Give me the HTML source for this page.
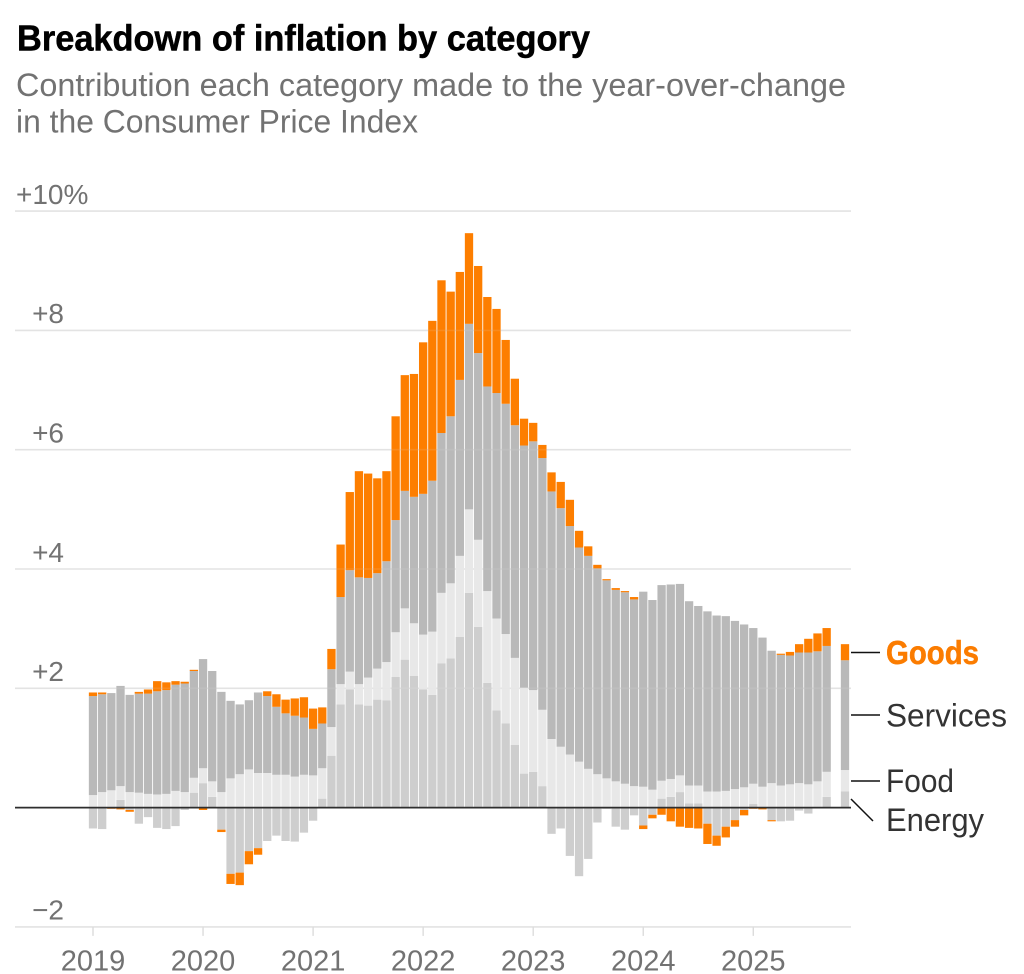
<!DOCTYPE html>
<html lang="en">
<head>
<meta charset="utf-8">
<title>Breakdown of inflation by category</title>
<style>
html,body{margin:0;padding:0;background:#fff;}
svg{display:block;}
text{font-family:"Liberation Sans",sans-serif;}
.tick{font-size:28px;fill:#727272;}
.xtick{font-size:29px;fill:#727272;}
.sub{font-size:32px;fill:#727272;}
.lab{font-size:32px;fill:#333;}
</style>
</head>
<body>
<svg id="chart" xmlns="http://www.w3.org/2000/svg" width="1024" height="974" viewBox="0 0 1024 974">
  <text x="17" y="50.5" font-size="36" font-weight="700" fill="#000" stroke="#000" stroke-width="0.5" textLength="573" lengthAdjust="spacingAndGlyphs">Breakdown of inflation by category</text>
  <text class="sub" x="16" y="96" textLength="830" lengthAdjust="spacingAndGlyphs">Contribution each category made to the year-over-change</text>
  <text class="sub" x="16" y="132.7" textLength="402" lengthAdjust="spacingAndGlyphs">in the Consumer Price Index</text>
  <g id="grid"></g>
  <g id="xaxis"></g>
  <g id="bars"></g>
  <g id="gridover"></g>
  <line x1="15" x2="851" y1="807.6" y2="807.6" stroke="#2e2e2e" stroke-width="1.8"/>
  <g>
    <line x1="851" x2="880" y1="652.5" y2="652.5" stroke="#111" stroke-width="1.6"/>
    <line x1="851" x2="880" y1="715" y2="715" stroke="#111" stroke-width="1.6"/>
    <line x1="851" x2="880" y1="781" y2="781" stroke="#111" stroke-width="1.6"/>
    <line x1="851" x2="873" y1="799" y2="821" stroke="#111" stroke-width="1.5"/>
    <text x="886" y="664" font-size="33" font-weight="700" fill="#fb7c00" stroke="#fb7c00" stroke-width="0.5" textLength="93" lengthAdjust="spacingAndGlyphs">Goods</text>
    <text class="lab" x="886" y="726.5" textLength="121" lengthAdjust="spacingAndGlyphs">Services</text>
    <text class="lab" x="886" y="792" textLength="68" lengthAdjust="spacingAndGlyphs">Food</text>
    <text class="lab" x="886" y="831" textLength="98" lengthAdjust="spacingAndGlyphs">Energy</text>
  </g>
</svg>
<script>
// Chart data: contribution in percentage points, monthly from Jan 2019 (Oct 2025 missing = null)
const yearLabels = ["2019","2020","2021","2022","2023","2024","2025"];
const yTickValues = [10,8,6,4,2,-2];
const yTickLabels = ["+10%","+8","+6","+4","+2","\u22122"];
const energy = [-.35,-.36,0,.13,-.04,-.27,-.16,-.34,-.36,-.31,-.04,.25,
  .41,.18,-.37,-1.11,-1.09,-.73,-.68,-.56,-.47,-.56,-.57,-.42,
  -.22,.15,.87,1.73,1.98,1.73,1.71,1.81,1.80,2.19,2.48,2.21,
  1.98,1.89,2.42,2.50,2.86,3.60,3.03,2.09,1.63,1.41,1.05,.57,
  .60,.36,-.44,-.35,-.81,-1.15,-.86,-.25,-.02,-.32,-.37,-.13,
  -.30,-.12,.15,.18,.26,.07,.07,-.27,-.47,-.32,-.21,-.04,
  .06,0,-.21,-.23,-.22,-.05,-.10,0,.18,null,.27];
const food = [.21,.26,.29,.23,.26,.25,.23,.22,.23,.28,.26,.25,
  .25,.26,.26,.49,.56,.64,.58,.58,.55,.55,.52,.55,
  .54,.51,.48,.34,.30,.34,.47,.52,.64,.75,.86,.88,
  .92,1.06,1.18,1.26,1.36,1.40,1.46,1.54,1.54,1.50,1.46,1.44,
  1.37,1.28,1.15,1.02,.89,.77,.65,.56,.49,.44,.40,.36,
  .35,.30,.30,.30,.28,.30,.30,.27,.27,.28,.31,.34,
  .34,.35,.41,.37,.39,.41,.39,.44,.42,null,.36];
const services = [1.66,1.64,1.63,1.68,1.63,1.66,1.68,1.73,1.74,1.78,1.82,1.79,
  1.83,1.85,1.68,1.30,1.17,1.16,1.35,1.29,1.14,1.03,1.02,.96,
  .78,.75,.97,1.46,1.70,1.79,1.67,1.60,1.69,1.88,1.97,2.12,
  2.36,2.53,2.68,2.80,2.95,3.11,3.13,3.43,3.78,3.86,3.90,4.06,
  4.17,4.22,4.15,4.00,3.83,3.59,3.57,3.45,3.32,3.21,3.21,3.13,
  3.27,3.18,3.28,3.26,3.21,3.09,3.01,3.02,2.95,2.93,2.82,2.73,
  2.61,2.50,2.22,2.19,2.16,2.19,2.21,2.18,2.11,null,1.84];
const goods = [.06,.03,-.02,-.03,-.03,.03,.07,.17,.13,.06,.03,.02,
  -.04,0,-.04,-.17,-.21,-.22,-.11,.08,.21,.23,.29,.34,
  .34,.27,.34,.88,1.31,1.78,1.75,1.59,1.51,1.74,1.94,2.06,
  2.54,2.68,2.56,2.09,1.81,1.52,1.46,1.50,1.41,1.07,.78,.45,
  .31,.22,.32,.44,.44,.28,.16,.06,.02,.03,.02,.04,
  -.06,-.06,-.12,-.23,-.32,-.34,-.35,-.34,-.17,-.18,-.11,-.09,
  -.02,-.03,-.02,.02,.06,.14,.23,.30,.30,null,.27];

const seriesNames = ["energy","food","services","goods"];
const seriesValues = [energy,food,services,goods];
const seriesColors = ["#cecece","#e8e8e8","#b9b9b9","#fd7e00"];

const NS = "http://www.w3.org/2000/svg";
function xScale(i){ return 93 + i * (845 - 93) / 82; }
function yScale(v){ return 807.6 - v * 59.65; }

const grid = document.getElementById("grid");
const over = document.getElementById("gridover");
yTickValues.forEach(function(v, k){
  const line = document.createElementNS(NS, "line");
  
  
  line.setAttribute("x1", 15);
  line.setAttribute("x2", 851);
  line.setAttribute("y1", yScale(v));
  line.setAttribute("y2", yScale(v));
  line.setAttribute("stroke", "#e3e3e3");
  line.setAttribute("stroke-width", "1.6");
  grid.appendChild(line);
  const faint = document.createElementNS(NS, "line");
  
  
  faint.setAttribute("x1", 15);
  faint.setAttribute("x2", 851);
  faint.setAttribute("y1", yScale(v));
  faint.setAttribute("y2", yScale(v));
  faint.setAttribute("stroke", "#e3e3e3");
  faint.setAttribute("stroke-opacity", "0.12");
  faint.setAttribute("stroke-width", "1.6");
  over.appendChild(faint);
  const t = document.createElementNS(NS, "text");
  
  
  t.setAttribute("class", "tick");
  t.setAttribute("x", v === 10 ? 16 : 64);
  t.setAttribute("y", yScale(v) - 7.2);
  t.setAttribute("text-anchor", v === 10 ? "start" : "end");
  t.textContent = yTickLabels[k];
  grid.appendChild(t);
});

const xaxis = document.getElementById("xaxis");
yearLabels.forEach(function(label, k){
  const x = xScale(k * 12);
  const tick = document.createElementNS(NS, "line");
  
  
  tick.setAttribute("x1", x);
  tick.setAttribute("x2", x);
  tick.setAttribute("y1", yScale(-2));
  tick.setAttribute("y2", yScale(-2) + 9);
  tick.setAttribute("stroke", "#dcdcdc");
  tick.setAttribute("stroke-width", "1.4");
  xaxis.appendChild(tick);
  const t = document.createElementNS(NS, "text");
  
  
  t.setAttribute("class", "xtick");
  t.setAttribute("x", x);
  t.setAttribute("y", 970.5);
  t.setAttribute("text-anchor", "middle");
  t.textContent = label;
  xaxis.appendChild(t);
});

const barsGroup = document.getElementById("bars");
energy.forEach(function(_, i){
  let pos = 0, neg = 0;
  seriesValues.forEach(function(values, s){
    const v = values[i];
    if (v === null || v === 0) return;
    const from = v > 0 ? pos : neg;
    const to = from + v;
    if (v > 0) pos = to; else neg = to;
    const rect = document.createElementNS(NS, "rect");
    
    
    rect.setAttribute("data-series", seriesNames[s]);
    rect.setAttribute("x", xScale(i) - 4.15);
    rect.setAttribute("width", 8.3);
    rect.setAttribute("y", Math.min(yScale(from), yScale(to)));
    rect.setAttribute("height", Math.abs(yScale(to) - yScale(from)));
    rect.setAttribute("fill", seriesColors[s]);
    barsGroup.appendChild(rect);
  });
});
</script>
</body>
</html>
